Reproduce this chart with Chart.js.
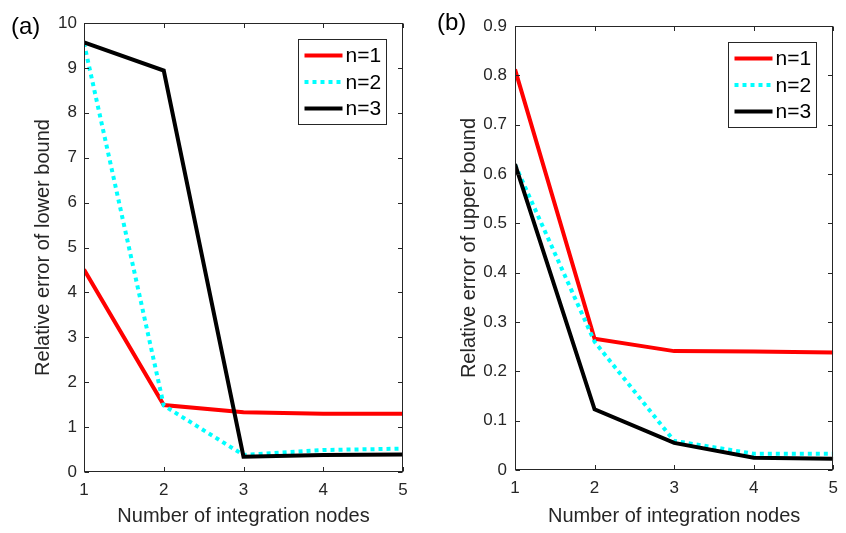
<!DOCTYPE html>
<html>
<head>
<meta charset="utf-8">
<script src="https://cdn.jsdelivr.net/npm/chart.js@4"></script>
<style>
  body { margin: 0; background: #fff; width: 846px; height: 533px; overflow: hidden; position: relative; font-family: "Liberation Sans", Arial, sans-serif; }
  .panel { position: absolute; top: 0; }
  .tag { position: absolute; font-size: 24px; color: #000; line-height: 28px; }
</style>
</head>
<body>
<div class="panel" style="left:0"><canvas id="chartA" width="420" height="533"></canvas></div>
<div class="panel" style="left:420px"><canvas id="chartB" width="426" height="533"></canvas></div>
<div class="tag" style="left:11px;top:12px">(a)</div>
<div class="tag" style="left:437px;top:8px">(b)</div>
<script>
// data
const nodes = [1, 2, 3, 4, 5];
const seriesNames = ['n=1', 'n=2', 'n=3'];

const lowerN1 = [4.51, 1.49, 1.33, 1.30, 1.30];
const lowerN2 = [9.55, 1.48, 0.38, 0.49, 0.52];
const lowerN3 = [9.57, 8.94, 0.34, 0.38, 0.39];

const upperN1 = [0.812, 0.266, 0.241, 0.240, 0.238];
const upperN2 = [0.619, 0.260, 0.059, 0.033, 0.033];
const upperN3 = [0.620, 0.123, 0.055, 0.025, 0.023];

const lowerTicks = [0, 1, 2, 3, 4, 5, 6, 7, 8, 9, 10];
const upperTicks = [0, 0.1, 0.2, 0.3, 0.4, 0.5, 0.6, 0.7, 0.8, 0.9];

Chart.defaults.font.family = '"Liberation Sans", Arial, sans-serif';
Chart.defaults.color = '#262626';

const lineStyles = [
  { borderColor: '#ff0000', borderDash: [] },
  { borderColor: '#00ffff', borderDash: [4, 4] },
  { borderColor: '#000000', borderDash: [] }
];

function makeDatasets(rows) {
  return rows.map((vals, i) => ({
    label: seriesNames[i],
    data: nodes.map((n, j) => ({ x: n, y: vals[j] })),
    borderColor: lineStyles[i].borderColor,
    borderDash: lineStyles[i].borderDash,
    borderWidth: 4,
    borderCapStyle: 'butt',
    pointRadius: 0,
    fill: false,
    tension: 0,
    order: 3 - i
  }));
}

// MATLAB-like box with inward ticks and a framed legend
const boxTicks = {
  id: 'boxTicks',
  afterDatasetsDraw(chart) {
    const { ctx, chartArea: a, scales: { x, y } } = chart;
    const L = Math.round(a.left) + 0.5, R = Math.round(a.right) - 0.5;
    const T = Math.round(a.top) + 0.5, B = Math.round(a.bottom) - 0.5;
    const tl = 4.5;
    ctx.save();
    ctx.strokeStyle = '#262626';
    ctx.lineWidth = 1;
    ctx.strokeRect(L, T, R - L, B - T);
    ctx.beginPath();
    x.ticks.forEach(t => {
      const px = Math.round(x.getPixelForValue(t.value)) + 0.5;
      ctx.moveTo(px, B); ctx.lineTo(px, B - tl);
      ctx.moveTo(px, T); ctx.lineTo(px, T + tl);
    });
    y.ticks.forEach(t => {
      const py = Math.round(y.getPixelForValue(t.value)) + 0.5;
      ctx.moveTo(L, py); ctx.lineTo(L + tl, py);
      ctx.moveTo(R, py); ctx.lineTo(R - tl, py);
    });
    ctx.stroke();

    // legend
    const bw = 88, bh = 85;
    const bx = Math.round(a.right) - 17 - bw + 0.5;
    const by = Math.round(a.top) + 16 + 0.5;
    ctx.fillStyle = '#fff';
    ctx.fillRect(bx, by, bw, bh);
    ctx.strokeStyle = '#262626';
    ctx.strokeRect(bx, by, bw, bh);
    ctx.font = '21px "Liberation Sans", Arial, sans-serif';
    ctx.textBaseline = 'middle';
    ctx.fillStyle = '#000';
    chart.data.datasets.forEach((ds, i) => {
      const ry = by + 16 + i * 26.5;
      ctx.save();
      ctx.strokeStyle = ds.borderColor;
      ctx.lineWidth = ds.borderWidth;
      ctx.setLineDash(ds.borderDash);
      ctx.lineCap = 'butt';
      ctx.beginPath();
      ctx.moveTo(bx + 6, ry);
      ctx.lineTo(bx + 44, ry);
      ctx.stroke();
      ctx.restore();
      ctx.fillText(ds.label, bx + 47, ry + 1);
    });
    ctx.restore();
  }
};

function makeChart(id, rows, yMax, yTicks, yTitle, opt) {
  return new Chart(document.getElementById(id), {
    type: 'line',
    data: { datasets: makeDatasets(rows) },
    plugins: [boxTicks],
    options: {
      responsive: false,
      animation: false,
      layout: { padding: { top: opt.top, right: opt.right, left: 0, bottom: 0 } },
      plugins: { legend: { display: false }, tooltip: { enabled: false } },
      scales: {
        x: {
          type: 'linear',
          min: 1, max: 5,
          afterBuildTicks: s => { s.ticks = nodes.map(v => ({ value: v })); },
          afterFit: s => { s.height = opt.xh; },
          grid: { display: false, drawTicks: false },
          border: { display: false },
          ticks: { font: { size: 17 }, padding: 8, maxRotation: 0, callback: v => String(v) },
          title: { display: true, text: 'Number of integration nodes', font: { size: 20 }, color: '#262626', padding: { top: 0, bottom: 5 } }
        },
        y: {
          min: 0, max: yMax,
          afterBuildTicks: s => { s.ticks = yTicks.map(v => ({ value: v })); },
          afterFit: s => { s.width = opt.yw; },
          grid: { display: false, drawTicks: false },
          border: { display: false },
          ticks: { font: { size: 17 }, padding: opt.tp, callback: v => String(v) },
          title: { display: true, text: yTitle, font: { size: 20 }, color: '#262626', padding: { top: opt.titlePad, bottom: 0 } }
        }
      }
    }
  });
}

makeChart('chartA', [lowerN1, lowerN2, lowerN3], 10, lowerTicks, 'Relative error of lower bound',
  { top: 23, right: 17, xh: 61, yw: 84, tp: 7, titlePad: 31 });
makeChart('chartB', [upperN1, upperN2, upperN3], 0.9, upperTicks, 'Relative error of upper bound',
  { top: 26, right: 6, xh: 63, yw: 95, tp: 8, titlePad: 37 });
</script>
</body>
</html>
